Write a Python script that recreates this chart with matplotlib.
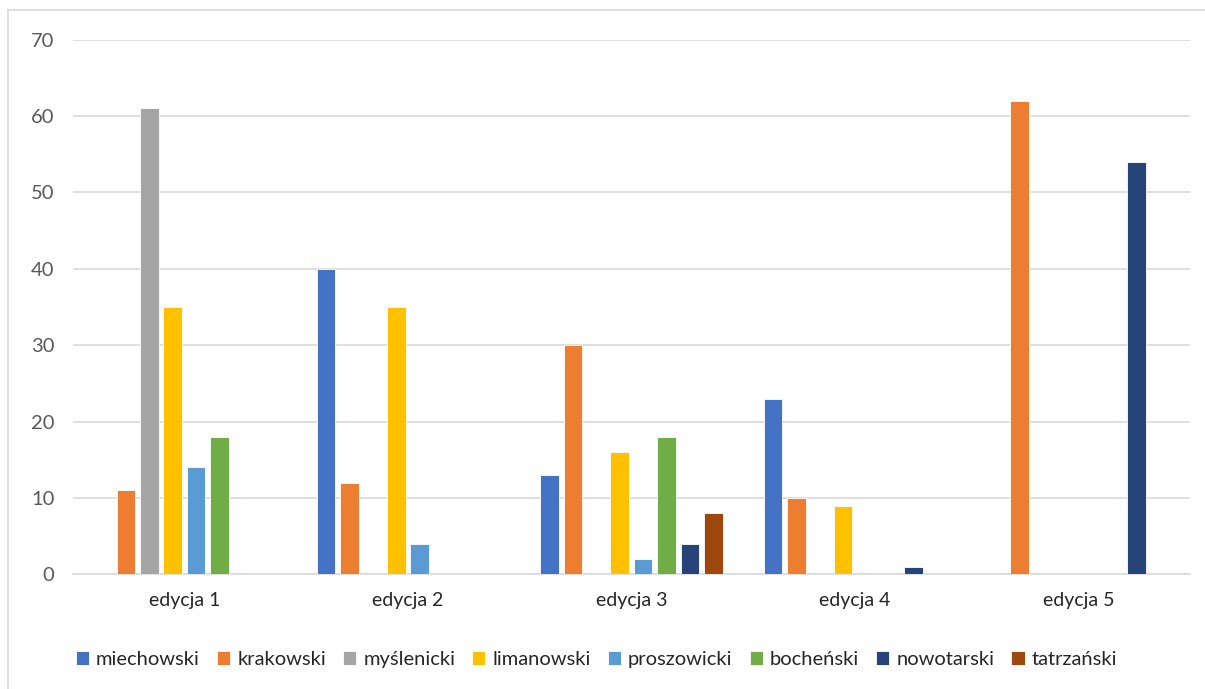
import matplotlib
matplotlib.use("Agg")
import matplotlib.pyplot as plt
from matplotlib.lines import Line2D
import numpy as np

plt.rcParams['font.family'] = ['Lato', 'DejaVu Sans']

# Dane
edycje = ["edycja 1", "edycja 2", "edycja 3", "edycja 4", "edycja 5"]
powiaty = ["miechowski", "krakowski", "myślenicki", "limanowski",
           "proszowicki", "bocheński", "nowotarski", "tatrzański"]
miechowski = [0, 40, 13, 23, 0]
krakowski = [11, 12, 30, 10, 62]
myslenicki = [61, 0, 0, 0, 0]
limanowski = [35, 35, 16, 9, 0]
proszowicki = [14, 4, 2, 0, 0]
bochenski = [18, 0, 18, 0, 0]
nowotarski = [0, 0, 4, 1, 54]
tatrzanski = [0, 0, 8, 0, 0]
serie = [miechowski, krakowski, myslenicki, limanowski,
         proszowicki, bochenski, nowotarski, tatrzanski]
kolory = ["#4472C4", "#ED7D31", "#A5A5A5", "#FFC000",
          "#5B9BD5", "#70AD47", "#264478", "#9E480E"]

fig = plt.figure(figsize=(12.05, 6.89), dpi=100)
ax = fig.add_axes([0.0603, 0.1665, 0.9273, 0.776])

x = np.arange(len(edycje))
krok = 0.1047
szer = 0.0837
for i, (nazwa, wart, kol) in enumerate(zip(powiaty, serie, kolory)):
    przes = (i - 3.5) * krok
    ax.bar(x + przes, wart, width=szer, color=kol, label=nazwa,
           edgecolor="white", linewidth=0.6, zorder=3)

ax.set_xlim(-0.5, 4.5)
ax.set_ylim(0, 70)
ax.set_yticks(range(0, 71, 10))
ax.set_xticks(x)
ax.set_xticklabels(edycje, fontsize=14, color="#262626")
ax.tick_params(axis="y", labelsize=14.5, labelcolor="#595959", length=0, pad=13)
ax.tick_params(axis="x", length=0, pad=13)
ax.grid(axis="y", color="#D9D9D9", linewidth=1.2, zorder=0)
for s in ["top", "right", "left"]:
    ax.spines[s].set_visible(False)
ax.spines["bottom"].set_color("#D9D9D9")
ax.spines["bottom"].set_linewidth(1.2)

leg = fig.legend(loc="center", bbox_to_anchor=(0.495, 0.043), ncol=8,
                 frameon=False, fontsize=14.5, handlelength=0.65, handleheight=0.65,
                 handletextpad=0.35, columnspacing=0.85)
for t in leg.get_texts():
    t.set_color("#262626")

# ramka wykresu
fig.add_artist(Line2D([8 / 1205, 1], [1 - 10 / 689, 1 - 10 / 689],
                      color="#D9D9D9", linewidth=1.2, transform=fig.transFigure))
fig.add_artist(Line2D([8 / 1205, 8 / 1205], [0, 1 - 10 / 689],
                      color="#D9D9D9", linewidth=1.2, transform=fig.transFigure))

fig.savefig("out.png", dpi=100)
